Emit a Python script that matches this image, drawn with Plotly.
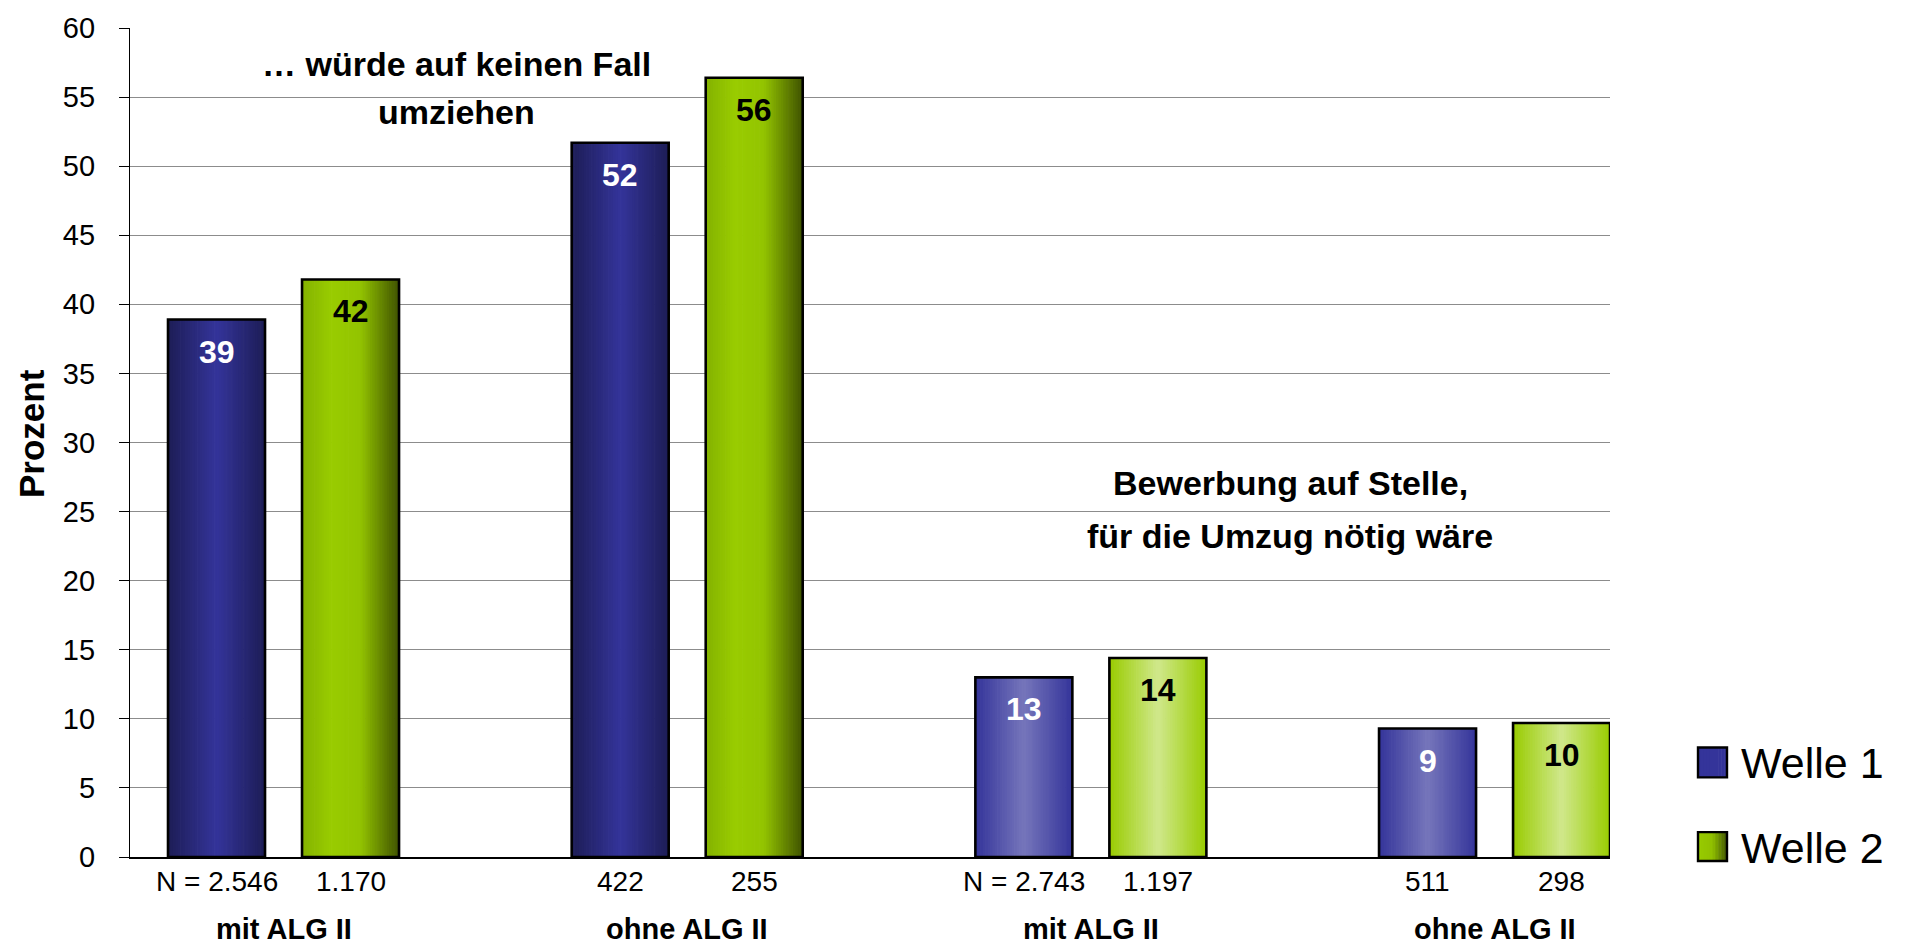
import plotly.graph_objects as go

# ---------------- data ----------------
categories = ["mit ALG II", "ohne ALG II", "mit ALG II", "ohne ALG II"]
series_names = ["Welle 1", "Welle 2"]
welle1 = [38.9, 51.7, 13.0, 9.3]
welle2 = [41.8, 56.4, 14.4, 9.7]
n_welle1 = ["N = 2.546", "422", "N = 2.743", "511"]
n_welle2 = ["1.170", "255", "1.197", "298"]
y_ticks = [0, 5, 10, 15, 20, 25, 30, 35, 40, 45, 50, 55, 60]
panel_titles = [["… würde auf keinen Fall", "umziehen"],
                ["Bewerbung auf Stelle,", "für die Umzug nötig wäre"]]

FONT = "Liberation Sans, Arial, Helvetica, sans-serif"

# ---------------- geometry helpers ----------------
W, H = 1908, 949
ML, MR, MT, MB = 130, 298, 24, 92
PW, PH = W - ML - MR, H - MT - MB


def px(xp):
    return (xp - ML) / PW


def py(yp):
    return (H - MB - yp) / PH


def hex2rgb(h):
    h = h.lstrip("#")
    return tuple(int(h[i:i + 2], 16) for i in (0, 2, 4))


def grad(stops, t):
    for (t0, c0), (t1, c1) in zip(stops[:-1], stops[1:]):
        if t0 <= t <= t1:
            f = (t - t0) / (t1 - t0) if t1 > t0 else 0
            a, b = hex2rgb(c0), hex2rgb(c1)
            r = [round(a[i] + (b[i] - a[i]) * f) for i in range(3)]
            return "rgb(%d,%d,%d)" % tuple(r)
    return stops[-1][1]


# gradient styles: dark variant for first panel, light variant for second
w1_dark = [(0, "#1d1d56"), (0.5, "#34349a"), (1, "#1d1d56")]
w1_light = [(0, "#34349a"), (0.5, "#7676bb"), (1, "#34349a")]
w2_dark = [(0, "#84b200"), (0.3, "#99cc00"), (0.6, "#93c400"), (1, "#3f5200")]
w2_light = [(0, "#99cc00"), (0.5, "#d0e88c"), (1, "#99cc00")]
panel_of_group = [0, 0, 1, 1]

series = [
    dict(name=series_names[0], y=welle1, n=n_welle1, off=-0.166,
         styles=[w1_dark, w1_light], txt="white"),
    dict(name=series_names[1], y=welle2, n=n_welle2, off=0.166,
         styles=[w2_dark, w2_light], txt="black"),
]
BW = 0.2403
K = 40
xpos = list(range(len(categories)))

fig = go.Figure()

for s in series:
    for k in range(K):
        t = (k + 0.5) / K
        cols = [grad(s["styles"][panel_of_group[i]], t) for i in xpos]
        wslice = BW / K * (1.3 if k < K - 1 else 1.0)
        fig.add_trace(go.Bar(
            x=xpos, y=s["y"], offset=s["off"] - BW / 2 + k * BW / K,
            width=wslice, marker=dict(color=cols, line=dict(width=0)),
            showlegend=False, hoverinfo="skip"))

for s in series:
    fig.add_trace(go.Bar(
        x=xpos, y=s["y"], offset=s["off"] - BW / 2, width=BW, name=s["name"],
        marker=dict(color="rgba(0,0,0,0)", line=dict(color="black", width=2.6)),
        showlegend=False, hovertemplate="%{y:.0f}<extra>" + s["name"] + "</extra>"))

annotations = []
for s in series:
    for i in xpos:
        annotations.append(dict(
            x=i + s["off"], y=s["y"][i], xref="x", yref="y",
            text=str(round(s["y"][i])), showarrow=False, yanchor="middle",
            yshift=-32, font=dict(family=FONT, size=32, color=s["txt"], weight="bold")))
        annotations.append(dict(
            x=i + s["off"], y=0, xref="x", yref="y", text=s["n"][i],
            showarrow=False, yanchor="middle", yshift=-24,
            font=dict(family=FONT, size=28, color="black")))

for i, c in enumerate(categories):
    annotations.append(dict(
        x=i, y=0, xref="x", yref="y", text=c, showarrow=False,
        yanchor="middle", yshift=-72,
        font=dict(family=FONT, size=29, color="black", weight="bold")))

# panel titles
title_pos = [(456, [60, 108]), (1290, [481, 534])]
for (xc, ys), lines in zip(title_pos, panel_titles):
    for yl, line in zip(ys, lines):
        annotations.append(dict(
            x=px(xc), y=py(yl), xref="paper", yref="paper", text=line,
            showarrow=False, xanchor="center", yanchor="middle",
            font=dict(family=FONT, size=34, color="black", weight="bold")))

# y axis title
annotations.append(dict(
    x=px(31), y=py(432), xref="paper", yref="paper", text="Prozent",
    textangle=-90, showarrow=False, xanchor="center", yanchor="middle",
    font=dict(family=FONT, size=35, color="black", weight="bold")))

# custom legend
shapes = []
leg_items = [(series_names[0], 747, 777, [(0, "#34349a"), (1, "#34349a")]),
             (series_names[1], 832, 861, [(0, "#99cc00"), (0.5, "#90c000"), (1, "#405400")])]
for name, y0, y1, stops in leg_items:
    x0, x1 = 1698, 1727
    n = 10
    for k in range(n):
        a = x0 + (x1 - x0) * k / n
        b = x0 + (x1 - x0) * (k + 1.2) / n if k < n - 1 else x1
        shapes.append(dict(type="rect", xref="paper", yref="paper",
                           x0=px(a), x1=px(b), y0=py(y1), y1=py(y0),
                           fillcolor=grad(stops, (k + 0.5) / n), line=dict(width=0),
                           layer="above"))
    shapes.append(dict(type="rect", xref="paper", yref="paper",
                       x0=px(x0), x1=px(x1), y0=py(y1), y1=py(y0),
                       fillcolor="rgba(0,0,0,0)", line=dict(color="black", width=2.4),
                       layer="above"))
    annotations.append(dict(
        x=px(1739), y=py((y0 + y1) / 2 + 1), xref="paper", yref="paper", text=name,
        showarrow=False, xanchor="left", yanchor="middle",
        font=dict(family=FONT, size=43, color="black")))

fig.update_layout(
    width=W, height=H, autosize=False,
    margin=dict(l=ML, r=MR, t=MT, b=MB),
    paper_bgcolor="white", plot_bgcolor="white",
    barmode="overlay", showlegend=False,
    font=dict(family=FONT, color="black"),
    annotations=annotations, shapes=shapes,
    xaxis=dict(range=[-0.3803, 3.286], showticklabels=False, ticks="",
               showgrid=False, zeroline=False, showline=True,
               linecolor="black", linewidth=1.5, fixedrange=True),
    yaxis=dict(range=[0, 60], tickvals=y_ticks, ticktext=[str(v) for v in y_ticks],
               showgrid=True, gridcolor="#8c8c8c", gridwidth=1.3,
               zeroline=False, showline=True, linecolor="black", linewidth=1.3,
               ticks="outside", ticklen=10, tickwidth=1.3, tickcolor="black",
               ticklabelstandoff=18,
               tickfont=dict(family=FONT, size=29, color="black"), fixedrange=True),
)

fig.write_html("out.html", include_plotlyjs=True,
               config={"displayModeBar": False},
               post_script="document.body.style.margin='0';document.body.style.overflow='hidden';")
